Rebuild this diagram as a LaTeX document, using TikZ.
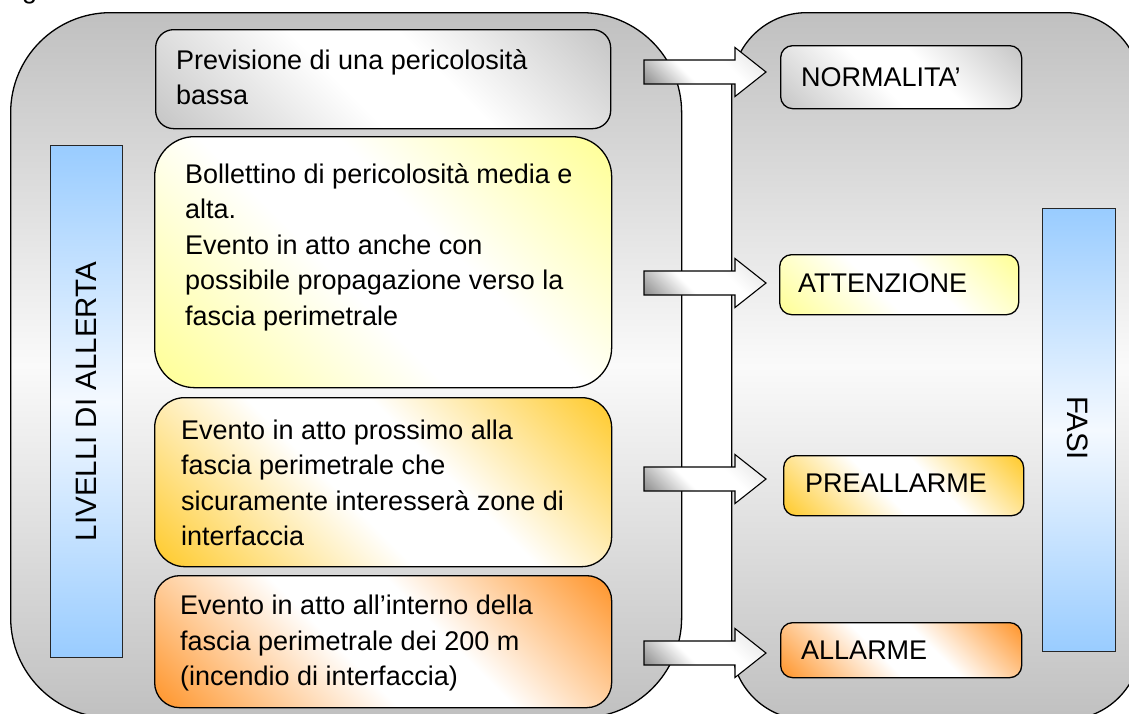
\documentclass[tikz,border=0pt]{standalone}
\usepackage{fontspec}
\setmainfont{Liberation Sans}
\definecolor{cgray}{HTML}{C0C0C0}
\definecolor{cwhite}{HTML}{FAFAFA}
\definecolor{bgray}{HTML}{C8C8C8}
\definecolor{byellow}{HTML}{FFFF99}
\definecolor{bgold}{HTML}{FFCC33}
\definecolor{borange}{HTML}{FF9933}
\definecolor{barblue}{HTML}{99CCFF}
\definecolor{barwhite}{HTML}{F4F9FF}
\colorlet{diagA}{bgray}
\pgfdeclareverticalshading[diagA]{diagshade}{100bp}{color(0bp)=(diagA); color(16bp)=(diagA); color(44bp)=(white); color(58bp)=(white); color(84bp)=(diagA); color(100bp)=(diagA)}
\pgfdeclareverticalshading{arrowshade}{100bp}{color(0bp)=(black!50); color(20bp)=(black!45); color(42bp)=(white); color(62bp)=(white); color(84bp)=(black!12); color(100bp)=(black!12)}
\tikzset{
  container/.style={draw=black, line width=1.3pt, inner sep=0pt, anchor=north west,
    top color=cgray, bottom color=cgray, middle color=cwhite},
  diagfill/.style={/utils/exec={\colorlet{diagA}{#1}}, shading=diagshade, shading angle=-45},
  levelbox/.style={draw=black, line width=1.3pt, inner sep=0pt, anchor=north west},
  bluebar/.style={draw=black!85, line width=1pt, inner sep=0pt, anchor=north west,
    top color=barblue, bottom color=barblue, middle color=barwhite},
  boxtext/.style={inner sep=0pt, anchor=west, align=left, text=black,
    font=\fontsize{27}{35.5}\selectfont},
  bartext/.style={inner sep=0pt, text=black, font=\fontsize{29.5}{35}\selectfont},
  blockarrow/.style={draw=black, line width=1.1pt, shading=arrowshade, shading angle=-45}
}
\begin{document}
\begin{tikzpicture}[x=1pt,y=-1pt]
\useasboundingbox (0,0) rectangle (1129,713);
\clip (0,0) rectangle (1129,713);
\fill[white] (0,0) rectangle (1129,713);
% cut caption fragment
\node[inner sep=0pt, anchor=base west, font=\fontsize{27}{32}\selectfont] (frag) at (22,-2) {g};
% containers
\node[container, rounded corners=100pt, minimum width=671, minimum height=705] (L) at (10,12) {};
\node[container, rounded corners=75pt, minimum width=409, minimum height=707] (R) at (731,12) {};
% blue bars
\node[bluebar, minimum width=72, minimum height=512] (barL) at (50,145) {};
\node[bluebar, minimum width=73, minimum height=443] (barR) at (1042,208) {};
\node[bartext, rotate=90] (barLt) at (barL.center) {LIVELLI DI ALLERTA};
\node[bartext, rotate=-90] (barRt) at (1078,428) {FASI};
% level boxes (left)
\node[levelbox, diagfill=bgray, rounded corners=18pt, minimum width=455, minimum height=99] (b1) at (155,29) {};
\node[levelbox, diagfill=byellow, rounded corners=40pt, minimum width=457, minimum height=251] (b2) at (154,136) {};
\node[levelbox, diagfill=bgold, rounded corners=30pt, minimum width=457, minimum height=169] (b3) at (154,397) {};
\node[levelbox, diagfill=borange, rounded corners=25pt, minimum width=457, minimum height=132] (b4) at (154,575) {};
\node[boxtext] (t1) at (176,77) {Previsione di una pericolosità\\bassa};
\node[boxtext] (t2) at (185,247) {Bollettino di pericolosità media e\\alta.\\Evento in atto anche con\\possibile propagazione verso la\\fascia perimetrale};
\node[boxtext] (t3) at (181,483) {Evento in atto prossimo alla\\fascia perimetrale che\\sicuramente interesserà zone di\\interfaccia};
\node[boxtext] (t4) at (180,643) {Evento in atto all’interno della\\fascia perimetrale dei 200 m\\(incendio di interfaccia)};
% phase boxes (right)
\node[levelbox, diagfill=bgray, rounded corners=12pt, minimum width=241, minimum height=63] (n1) at (780,45) {};
\node[levelbox, diagfill=byellow, rounded corners=12pt, minimum width=239, minimum height=60] (n2) at (779,254) {};
\node[levelbox, diagfill=bgold, rounded corners=12pt, minimum width=240, minimum height=60] (n3) at (783,455) {};
\node[levelbox, diagfill=borange, rounded corners=12pt, minimum width=241, minimum height=55] (n4) at (780,622) {};
\node[boxtext] (tn1) at (801,77) {NORMALITA’};
\node[boxtext] (tn2) at (798,283) {ATTENZIONE};
\node[boxtext] (tn3) at (805,483) {PREALLARME};
\node[boxtext] (tn4) at (801,650) {ALLARME};
% block arrows
\foreach \yc/\nm in {72/a1,283/a2,479/a3,653/a4}{
  \draw[blockarrow] (644,\yc-12) -- (735,\yc-12) -- (735,\yc-24.5) -- (766,\yc)
     -- (735,\yc+24.5) -- (735,\yc+12) -- (644,\yc+12) -- cycle;
}
\end{tikzpicture}
\end{document}
